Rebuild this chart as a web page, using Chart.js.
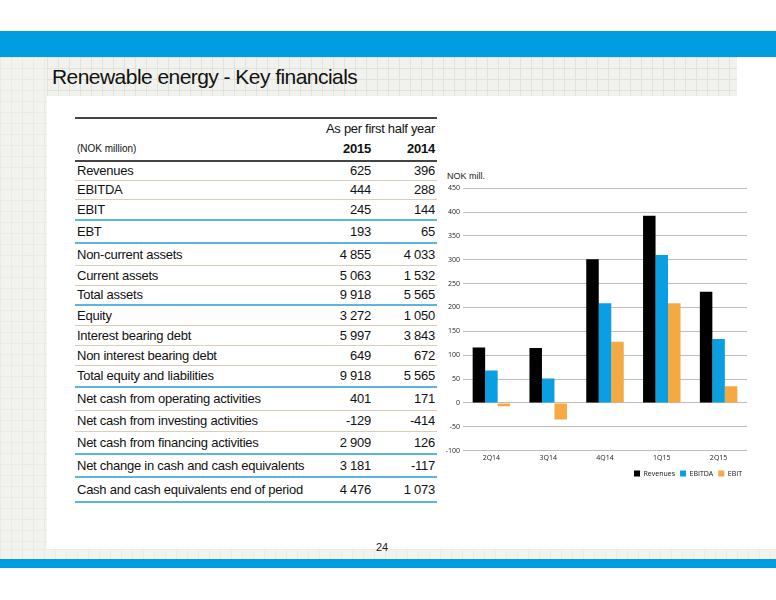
<!DOCTYPE html>
<html>
<head>
<meta charset="utf-8">
<script src="https://cdn.jsdelivr.net/npm/chart.js@4.4.1/dist/chart.umd.min.js"></script>
<style>
  body { margin: 0; width: 776px; height: 600px; background: #fff; position: relative; overflow: hidden; font-family: "Liberation Sans", Arial, sans-serif; }
  .blue { position: absolute; left: 0; width: 776px; background: #009ee0; }
  .grid {
    position: absolute;
    background-color: #f1f1ed;
    background-image: linear-gradient(to right, #e2e2dc 1px, transparent 1px), linear-gradient(to bottom, #e2e2dc 1px, transparent 1px);
    background-size: 11px 11px;
  }
  .faint { background-color: #f2f2ee; background-image: linear-gradient(to right, #ebebe6 1px, transparent 1px), linear-gradient(to bottom, #ebebe6 1px, transparent 1px); }
  #title { position: absolute; left: 52px; top: 65px; font-size: 21px; color: #111; letter-spacing: -0.55px; }
  #pageno { position: absolute; left: 376px; top: 541px; font-size: 11px; color: #222; }
  table { position: absolute; left: 75px; top: 117px; width: 362px; border-collapse: collapse; color: #111; }
  td { padding: 0 2px; font-size: 13px; white-space: nowrap; letter-spacing: -0.25px; }
  td.num { text-align: right; width: 60px; }
  #nok { position: absolute; left: 447px; top: 171px; font-size: 9px; color: #222; }
  #chartBox { position: absolute; left: 440px; top: 181px; width: 318px; height: 306px; }
</style>
</head>
<body>
<div class="blue" style="top:31px;height:26px;"></div>
<div class="grid faint" style="left:0;top:57px;width:47px;height:492px;"></div>
<div class="grid" style="left:47px;top:57px;width:690px;height:39px;"></div>
<div class="grid faint" style="left:0;top:549px;width:776px;height:10px;"></div>
<div class="blue" style="top:559px;height:9px;"></div>
<div id="title">Renewable energy - Key financials</div>
<div id="pageno">24</div>

<table id="tbl"></table>

<div id="nok">NOK mill.</div>
<div id="chartBox"><canvas id="chart"></canvas></div>

<script>
// table data
const rowLabels = ['Revenues', 'EBITDA', 'EBIT', 'EBT', 'Non-current assets', 'Current assets', 'Total assets',
  'Equity', 'Interest bearing debt', 'Non interest bearing debt', 'Total equity and liabilities',
  'Net cash from operating activities', 'Net cash from investing activities', 'Net cash from financing activities',
  'Net change in cash and cash equivalents', 'Cash and cash equivalents end of period'];
const values2015 = ['625', '444', '245', '193', '4 855', '5 063', '9 918', '3 272', '5 997', '649', '9 918',
  '401', '-129', '2 909', '3 181', '4 476'];
const values2014 = ['396', '288', '144', '65', '4 033', '1 532', '5 565', '1 050', '3 843', '672', '5 565',
  '171', '-414', '126', '-117', '1 073'];
const yearLabels = ['2015', '2014'];

// chart data
const quarters = ['2Q14', '3Q14', '4Q14', '1Q15', '2Q15'];
const revenues = [116, 115, 301, 392, 233];
const ebitda = [68, 51, 209, 310, 134];
const ebit = [-7, -35, 128, 209, 35];

// row look (heights and bottom rule per row)
const rowH = [19, 19, 21, 23, 22, 20, 20, 20, 20, 20, 22, 23, 21, 23, 23, 25];
const rowRule = ['t', 't', 'b', 'b', 't', 't', 'B', 't', 't', 't', 'b', 't', 't', 'b', 'b', 'b'];
const ruleCss = { t: '1px solid #d8cfb6', b: '2px solid #5ab6de', B: '2px solid #5ab6de' };

const tbl = document.getElementById('tbl');
tbl.innerHTML =
  '<tr style="height:19px;border-top:2px solid #444;"><td></td><td colspan="2" style="text-align:right;letter-spacing:-0.3px;">As per first half year</td></tr>' +
  '<tr style="height:24px;border-bottom:2px solid #444;"><td style="font-size:10px;letter-spacing:0;">(NOK million)</td>' +
  '<td class="num" style="font-weight:bold;">' + yearLabels[0] + '</td><td class="num" style="font-weight:bold;">' + yearLabels[1] + '</td></tr>';
rowLabels.forEach((lab, i) => {
  const tr = document.createElement('tr');
  tr.style.height = rowH[i] + 'px';
  tr.style.borderBottom = ruleCss[rowRule[i]];
  tr.innerHTML = '<td>' + lab + '</td><td class="num">' + values2015[i] + '</td><td class="num">' + values2014[i] + '</td>';
  tbl.appendChild(tr);
});

const tickFont = { family: 'Open Sans', size: 7 };

new Chart(document.getElementById('chart'), {
  type: 'bar',
  data: {
    labels: quarters,
    datasets: [
      { label: 'Revenues', data: revenues, backgroundColor: '#000000' },
      { label: 'EBITDA', data: ebitda, backgroundColor: '#0a9fe2' },
      { label: 'EBIT', data: ebit, backgroundColor: '#f5a943' }
    ]
  },
  options: {
    responsive: true,
    maintainAspectRatio: false,
    animation: false,
    datasets: { bar: { categoryPercentage: 0.66, barPercentage: 1 } },
    layout: { padding: { top: 4, right: 11, bottom: 0, left: 0 } },
    plugins: {
      tooltip: { enabled: false },
      legend: {
        position: 'bottom',
        align: 'end',
        labels: { boxWidth: 6, boxHeight: 6, font: tickFont, color: '#111', padding: 5 }
      }
    },
    scales: {
      x: {
        grid: { display: false, drawTicks: false },
        border: { display: false },
        ticks: { font: tickFont, color: '#222', padding: 3 }
      },
      y: {
        min: -100,
        max: 450,
        ticks: { stepSize: 50, font: tickFont, color: '#222', padding: 3 },
        grid: { color: '#bdbdbd', drawTicks: false },
        border: { display: false },
        afterFit: s => { s.width = 23; }
      }
    }
  }
});
</script>
</body>
</html>
